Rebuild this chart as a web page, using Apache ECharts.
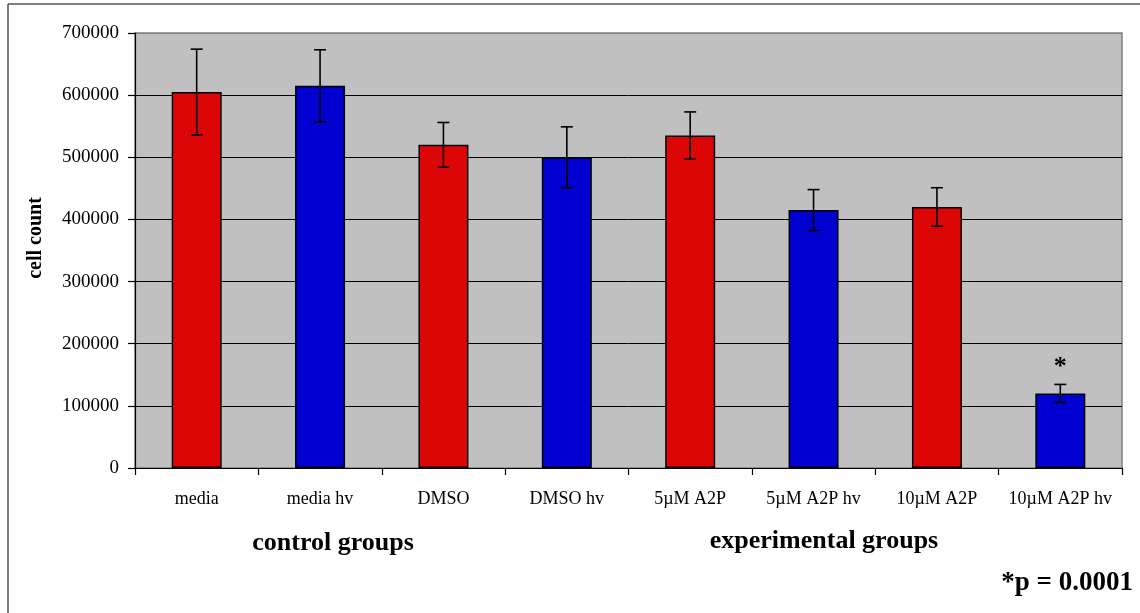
<!DOCTYPE html>
<html>
<head>
<meta charset="utf-8">
<script src="https://cdn.jsdelivr.net/npm/echarts@6/dist/echarts.min.js"></script>
<style>
html,body{margin:0;padding:0;background:#fff;}
#c{width:1140px;height:613px;}
</style>
</head>
<body>
<div id="c"></div>
<script>
const categories = ['media','media hv','DMSO','DMSO hv','5\u00b5M A2P','5\u00b5M A2P hv','10\u00b5M A2P','10\u00b5M A2P hv'];
const meanValues = [605000, 615000, 520000, 500000, 535000, 415000, 420000, 120000];
const errorValues = [69000, 58000, 36000, 49000, 38000, 33000, 31000, 14500];
const barColors = ['#DD0606','#0000D0','#DD0606','#0000D0','#DD0606','#0000D0','#DD0606','#0000D0'];
const significance = ['','','','','','','','*'];

const FONT = '"Liberation Serif","Times New Roman",serif';
const chart = echarts.init(document.getElementById('c'), null, {renderer:'canvas'});

const option = {
  animation: false,
  grid: {left:135, right:18, top:33, bottom:145, show:true, backgroundColor:'#C0C0C0', borderColor:'#808080', borderWidth:1.5},
  xAxis: {
    type:'category', data: categories,
    axisLine:{show:true, lineStyle:{color:'#000', width:1.2}},
    axisTick:{show:true, interval:0, length:7, inside:false, lineStyle:{color:'#000', width:1.2}},
    axisLabel:{interval:0, fontFamily:FONT, fontSize:18, color:'#000', margin:22},
    splitLine:{show:false}
  },
  yAxis: {
    type:'value', min:0, max:700000, interval:100000,
    axisLine:{show:true, lineStyle:{color:'#000', width:1.2}},
    axisTick:{show:true, length:7, lineStyle:{color:'#000', width:1.2}},
    axisLabel:{fontFamily:FONT, fontSize:19, color:'#000', margin:16, formatter: v => String(v)},
    splitLine:{show:true, lineStyle:{color:['#000','#000','#000','#000','#000','#000','#000','#808080'], width:1}}
  },
  series: [
    {
      type:'bar', barWidth:50,
      data: meanValues.map((v,i)=>({value:v, itemStyle:{color:barColors[i], borderColor:'#000', borderWidth:1.5}})),
      z:2
    },
    {
      type:'custom', z:5,
      data: meanValues.map((v,i)=>[i, v, errorValues[i]]),
      renderItem: function(params, api){
        const i = api.value(0), m = api.value(1), e = api.value(2);
        const top = api.coord([i, m+e]);
        const bot = api.coord([i, m-e]);
        const hw = 6;
        const style = {stroke:'#000', lineWidth:1.6};
        const children = [
          {type:'line', shape:{x1:top[0], y1:top[1], x2:bot[0], y2:bot[1]}, style:style},
          {type:'line', shape:{x1:top[0]-hw, y1:top[1], x2:top[0]+hw, y2:top[1]}, style:style},
          {type:'line', shape:{x1:bot[0]-hw, y1:bot[1], x2:bot[0]+hw, y2:bot[1]}, style:style}
        ];
        const s = significance[params.dataIndex];
        if (s) {
          children.push({type:'text', style:{text:s, x:top[0], y:top[1]-4, align:'center', verticalAlign:'bottom', font:'bold 26px ' + FONT, fill:'#000'}});
        }
        return {type:'group', children:children};
      }
    }
  ],
  graphic: [
    {type:'line', shape:{x1:8, y1:4, x2:1140, y2:4}, style:{stroke:'#555', lineWidth:1.5}},
    {type:'line', shape:{x1:8, y1:4, x2:8, y2:613}, style:{stroke:'#555', lineWidth:1.5}},
    {type:'text', x:36, y:238, rotation:Math.PI/2, style:{text:'cell count', font:'bold 20px ' + FONT, fill:'#000', align:'center', verticalAlign:'middle'}},
    {type:'text', x:333, y:543, style:{text:'control groups', font:'bold 26px ' + FONT, fill:'#000', align:'center', verticalAlign:'middle'}},
    {type:'text', x:824, y:541, style:{text:'experimental groups', font:'bold 26px ' + FONT, fill:'#000', align:'center', verticalAlign:'middle'}},
    {type:'text', x:1133, y:583, style:{text:'*p = 0.0001', font:'bold 27px ' + FONT, fill:'#000', align:'right', verticalAlign:'middle'}}
  ]
};
chart.setOption(option);
</script>
</body>
</html>
